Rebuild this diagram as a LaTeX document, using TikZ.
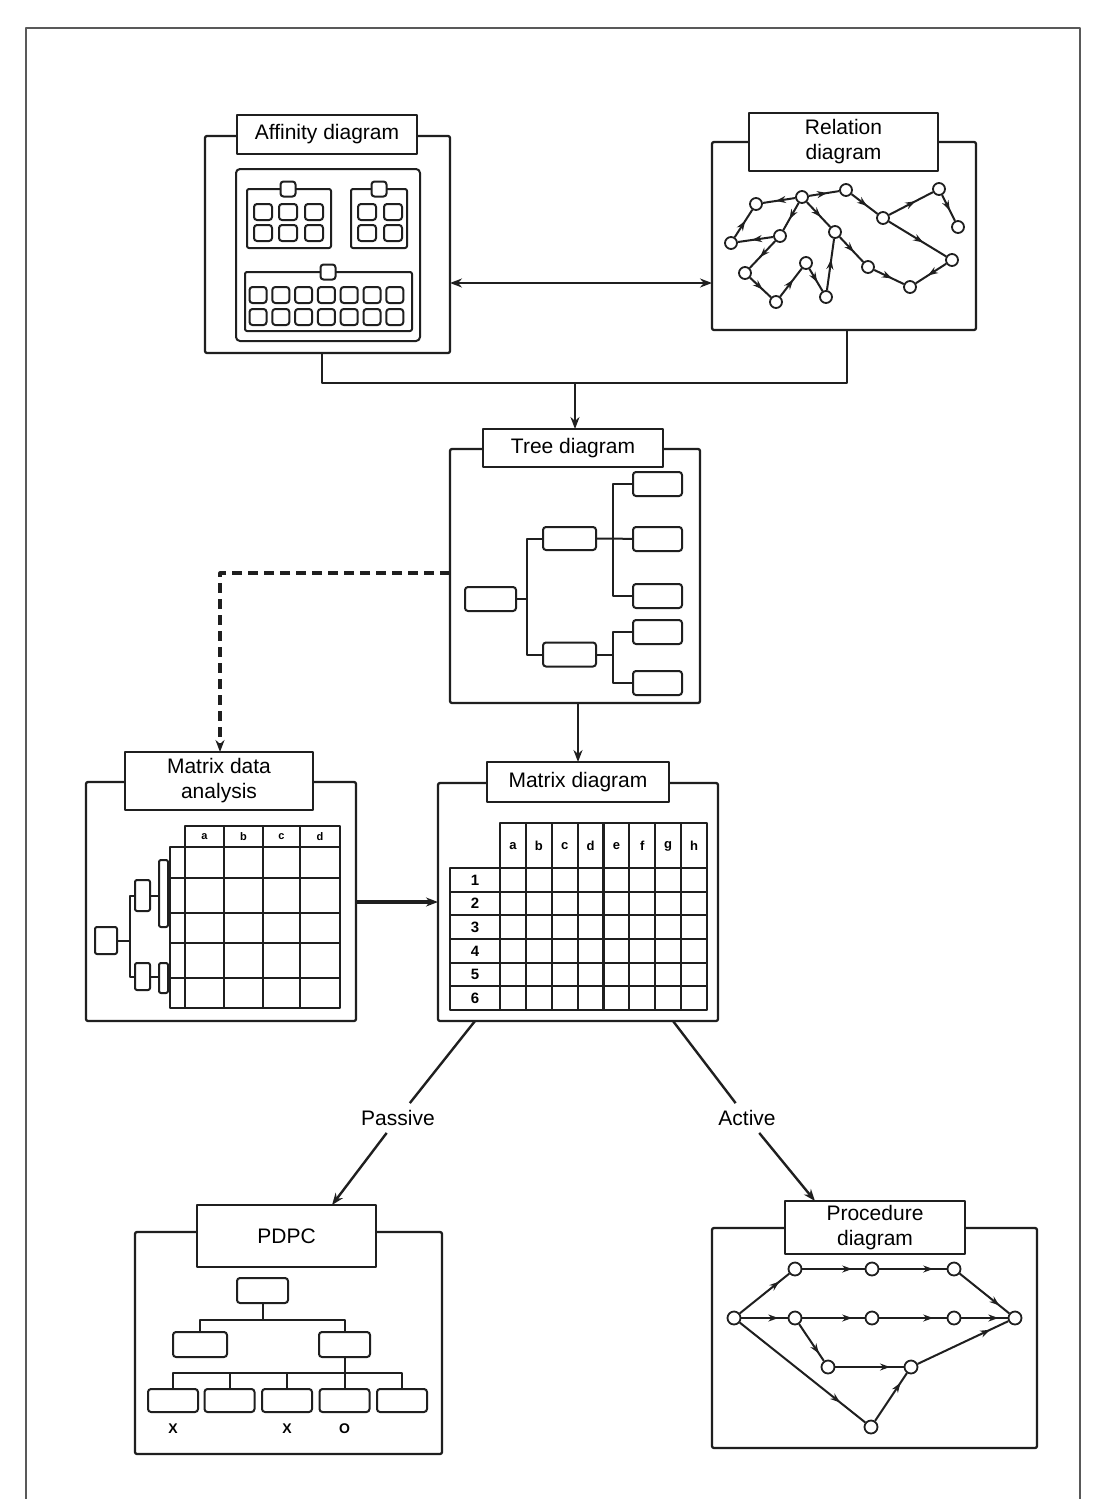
\documentclass[tikz,border=0pt]{standalone}
\usepackage{fontspec}
\setmainfont{Liberation Sans}
\usetikzlibrary{arrows.meta,decorations.markings,calc}
\definecolor{ink}{gray}{0.12}
\newcommand\dglblfont{\fontsize{21}{25}\selectfont}
\begin{document}
\begin{tikzpicture}[x=1pt,y=-1pt, line join=round,
  panel/.style={draw=ink, line width=2.3pt, rounded corners=2pt, inner sep=0pt, outer sep=0pt},
  lbl/.style={draw=ink, line width=1.9pt, fill=white, align=center, inner sep=0pt, outer sep=0pt, font=\dglblfont},
  box/.style={draw=ink, line width=2pt, rounded corners=3pt, inner sep=0pt, outer sep=0pt, fill=white},
  dot/.style={circle, draw=ink, line width=1.8pt, fill=white, minimum size=12pt, inner sep=0pt},
  wire/.style={draw=ink, line width=2pt},
  tbl/.style={draw=ink, line width=2.1pt},
  conn/.style={draw=ink, line width=2.4pt},
  tip/.style={-{Stealth[length=12pt,width=9pt]}},
  midarrow/.style={postaction={decorate}, decoration={markings, mark=at position #1 with {\arrow{Stealth[length=10pt,width=7pt]}}}},
  tlabel/.style={font=\dglblfont, inner sep=7pt},
  small/.style={font=\fontsize{13}{13}\selectfont\bfseries, inner sep=0pt},
]
\useasboundingbox (0,0) rectangle (1098,1499);
\fill[white] (0,0) rectangle (1098,1499);
% outer frame
\draw[draw=black!65, line width=2.8pt] (26,1499) -- (26,28) -- (1080,28) -- (1080,1499);

% ---------------- Affinity diagram
\node[panel, minimum width=245pt, minimum height=217pt] (aff) at (327.5,244.5) {};
\node[box, rounded corners=4pt, minimum width=184pt, minimum height=172pt] (affin) at (328,255) {};
\node[box, rounded corners=2pt, minimum width=84pt, minimum height=59pt] (g1) at (289,218.5) {};
\node[box, rounded corners=2pt, minimum width=56pt, minimum height=59pt] (g2) at (379,218.5) {};
\node[box, rounded corners=2pt, minimum width=167pt, minimum height=59pt] (g3) at (328.5,301.5) {};
\node[box, minimum width=15pt, minimum height=15pt] (g1t) at (288,189) {};
\node[box, minimum width=15pt, minimum height=15pt] (g2t) at (379,189) {};
\node[box, minimum width=15pt, minimum height=15pt] (g3t) at (328,272) {};
\foreach \i/\x in {1/263,2/288,3/314}
  \foreach \j/\y in {1/212,2/233}
    \node[box, minimum width=18pt, minimum height=16pt] (g1c\i\j) at (\x,\y) {};
\foreach \i/\x in {1/367,2/393}
  \foreach \j/\y in {1/212,2/233}
    \node[box, minimum width=18pt, minimum height=16pt] (g2c\i\j) at (\x,\y) {};
\foreach \i in {0,...,6}
  \foreach \j/\y in {1/295,2/317}
    \node[box, minimum width=17pt, minimum height=16pt] (g3c\i\j) at (258+22.8*\i,\y) {};
\node[lbl, minimum width=180pt, minimum height=39pt] (afflbl) at (327,134.5) {Affinity diagram};

% ---------------- Relation diagram
\node[panel, minimum width=264pt, minimum height=188pt] (rel) at (844,236) {};
\foreach \n/\x/\y in {1/756/204, 2/802/197, 3/846/190, 4/939/189, 5/883/218, 6/958/227,
  7/731/243, 8/780/236, 9/835/232, 10/952/260, 11/745/273, 12/806/263, 13/868/267,
  14/776/302, 15/826/297, 16/910/287}
  \node[dot] (r\n) at (\x,\y) {};
\foreach \a/\b in {2/1, 2/3, 3/5, 5/4, 4/6, 5/10, 7/1, 8/7, 2/8, 8/11, 11/14, 14/12,
  12/15, 15/9, 2/9, 9/13, 13/16, 10/16}
  \draw[wire, midarrow=0.6] (r\a) -- (r\b);
\node[lbl, minimum width=189pt, minimum height=58pt] (rellbl) at (843.5,142) {Relation\\diagram};

% ---------------- Tree diagram
\node[panel, minimum width=250pt, minimum height=254pt] (tree) at (575,576) {};
\node[box, minimum width=51pt, minimum height=24pt] (t0) at (490.5,599) {};
\node[box, minimum width=53pt, minimum height=23pt] (t1) at (569.5,538.5) {};
\node[box, minimum width=53pt, minimum height=24pt] (t2) at (569.5,654.5) {};
\foreach \n/\y in {1/484, 2/539, 3/596, 4/632, 5/683}
  \node[box, minimum width=49pt, minimum height=24pt] (tl\n) at (657.5,\y) {};
\coordinate (tj) at (527,599);
\coordinate (tj1) at (613,538.5);
\coordinate (tj2) at (613,654.5);
\draw[wire] (t0.east) -- (tj);
\draw[wire] (t1.west) -| (tj) |- (t2.west);
\draw[wire] (t1.east) -- (tj1) -- (tl2.west);
\draw[wire] (tl1.west) -| (tj1) |- (tl3.west);
\draw[wire] (t2.east) -- (tj2);
\draw[wire] (tl4.west) -| (tj2) |- (tl5.west);
\node[lbl, minimum width=180pt, minimum height=38pt] (treelbl) at (573,448) {Tree diagram};

% ---------------- Matrix data analysis
\node[panel, minimum width=270pt, minimum height=239pt] (mda) at (221,901.5) {};
\draw[tbl] (185,1008) -- (185,826) -- (340,826) -- (340,1008) -- (170,1008) -- (170,847) -- (340,847);
\foreach \x in {224,263,300} \draw[tbl] (\x,826) -- (\x,1008);
\foreach \y in {878,913,943,978} \draw[tbl] (170,\y) -- (340,\y);
\foreach \l/\x in {a/204.5, b/243.5, c/281.5, d/320}
  \node[small, font=\fontsize{11}{11}\selectfont\bfseries] (mdah\l) at (\x,837) {\l};
\node[box, rounded corners=2pt, minimum width=22pt, minimum height=27pt] (m0) at (106,940.5) {};
\node[box, rounded corners=2pt, minimum width=15pt, minimum height=31pt] (m1) at (142.5,895.5) {};
\node[box, rounded corners=2pt, minimum width=15pt, minimum height=27pt] (m2) at (142.5,976.5) {};
\node[box, rounded corners=2pt, minimum width=9pt, minimum height=67pt] (m3) at (163.5,893.5) {};
\node[box, rounded corners=2pt, minimum width=9pt, minimum height=30pt] (m4) at (163.5,978) {};
\coordinate (mj) at (130,940.5);
\draw[wire] (m0.east) -- (mj);
\draw[wire] (m1.west) -| (mj) |- (m2.west);
\draw[wire] (m1.east) -- (m1.east -| m3.west);
\draw[wire] (m2.east) -- (m2.east -| m4.west);
\node[lbl, minimum width=188pt, minimum height=58pt] (mdalbl) at (219,781) {Matrix data\\analysis};

% ---------------- Matrix diagram
\node[panel, minimum width=280pt, minimum height=238pt] (mx) at (578,902) {};
\draw[tbl] (500,1010) -- (500,823) -- (707,823) -- (707,1010) -- (450,1010) -- (450,868) -- (707,868);
\foreach \i in {1,...,7} \draw[tbl] (500+25.875*\i,823) -- (500+25.875*\i,1010);
\foreach \j in {1,...,5} \draw[tbl] (450,868+23.67*\j) -- (707,868+23.67*\j);
\foreach \l [count=\i] in {a,b,c,d,e,f,g,h}
  \node[small] (mxh\l) at (500+25.875*\i-12.94,846) {\l};
\foreach \n in {1,...,6}
  \node[small, font=\fontsize{15}{15}\selectfont\bfseries] (mxr\n) at (475,868+23.67*\n-11.83) {\n};
\node[lbl, minimum width=182pt, minimum height=40pt] (mxlbl) at (578,782) {Matrix diagram};

% ---------------- PDPC
\node[panel, minimum width=307pt, minimum height=222pt] (pdpc) at (288.5,1343) {};
\node[box, minimum width=51pt, minimum height=25pt] (p0) at (262.5,1290.5) {};
\node[box, minimum width=54pt, minimum height=25pt] (p1) at (200,1344.5) {};
\node[box, minimum width=51pt, minimum height=25pt] (p2) at (344.5,1344.5) {};
\foreach \n/\x in {1/173, 2/229.5, 3/287, 4/344.5, 5/402}
  \node[box, minimum width=50pt, minimum height=23pt] (q\n) at (\x,1400.5) {};
\coordinate (pj) at (262.5,1320);
\coordinate (pk) at (344.5,1373);
\draw[wire] (p0.south) -- (pj);
\draw[wire] (p1.north) |- (pj) -| (p2.north);
\draw[wire] (p2.south) -- (q4.north);
\draw[wire] (q1.north) |- (pk) -| (q5.north);
\draw[wire] (q2.north) -- (q2.north |- pk);
\draw[wire] (q3.north) -- (q3.north |- pk);
\node[font=\fontsize{14}{14}\selectfont\bfseries, inner sep=0pt] (x1) at (173,1429) {X};
\node[font=\fontsize{14}{14}\selectfont\bfseries, inner sep=0pt] (x3) at (287,1429) {X};
\node[font=\fontsize{14}{14}\selectfont\bfseries, inner sep=0pt] (o4) at (344.5,1429) {O};
\node[lbl, minimum width=179pt, minimum height=62pt] (pdpclbl) at (286.5,1236) {PDPC};

% ---------------- Procedure diagram
\node[panel, minimum width=325pt, minimum height=220pt] (proc) at (874.5,1338) {};
\foreach \n/\x/\y in {s/734/1318, a1/795/1269, a2/872/1269, a3/954/1269,
  b1/795/1318, b2/872/1318, b3/954/1318, t/1015/1318, c1/828/1367, c2/911/1367, d/871/1427}
  \node[dot, minimum size=13pt] (pr\n) at (\x,\y) {};
\foreach \a/\b in {s/a1, s/b1, s/d, a1/a2, a2/a3, a3/t, b1/b2, b2/b3, b3/t, b1/c1, c1/c2, c2/t, d/c2}
  \draw[wire, midarrow=0.8] (pr\a) -- (pr\b);
\node[lbl, minimum width=180pt, minimum height=53pt] (proclbl) at (875,1227.5) {Procedure\\diagram};

% ---------------- connectors
\draw[conn, {Stealth[length=12pt,width=9pt]}-{Stealth[length=12pt,width=9pt]}] (aff.east |- 0,283) -- (rel.west |- 0,283);
\draw[conn] (aff.south -| 322,0) |- (847,383) -- (rel.south -| 847,0);
\coordinate (jn) at (575,383);
\draw[conn, tip] (jn) -- (treelbl.north -| jn);
\draw[conn, tip] (tree.south -| 578,0) -- (mxlbl.north -| 578,0);
\draw[conn, line width=3.2pt, dash pattern=on 10pt off 6pt, tip] (tree.west |- 0,573) -| (mdalbl.north -| 220,0);
\draw[conn, line width=3.4pt, tip] (mda.east |- 0,902) -- (mx.west |- 0,902);
\node[tlabel] (pas) at (398,1118) {Passive};
\node[tlabel] (act) at (747,1118) {Active};
\draw[conn] (mx.south -| 475,0) -- (pas);
\draw[conn, tip] (pas) -- (pdpclbl.north -| 332,0);
\draw[conn] (mx.south -| 673,0) -- (act);
\draw[conn, tip] (act) -- (proclbl.north -| 815,0);
\end{tikzpicture}
\end{document}
